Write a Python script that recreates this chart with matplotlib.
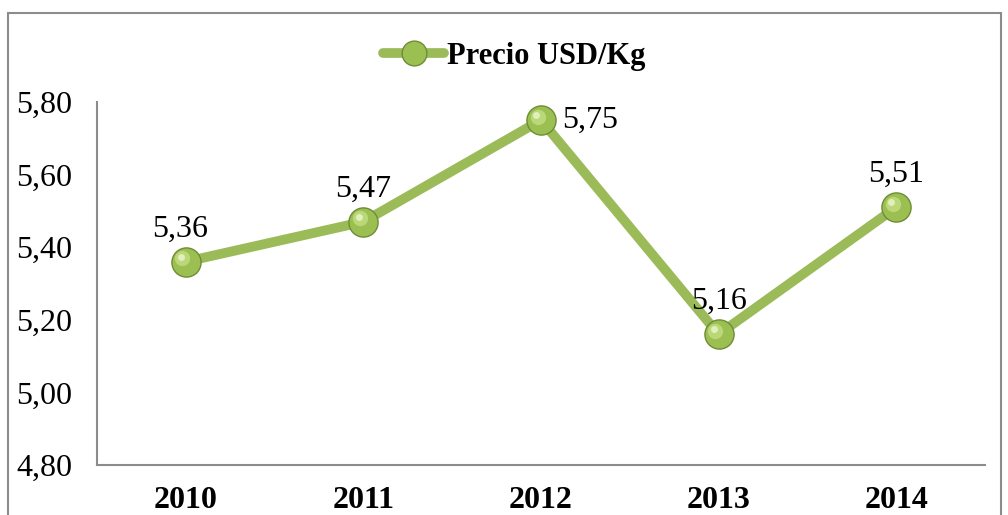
import matplotlib.pyplot as plt
from matplotlib.patches import Rectangle
from matplotlib.ticker import FuncFormatter
from matplotlib.transforms import offset_copy

plt.rcParams['font.family'] = ['Liberation Serif', 'DejaVu Serif']

# data
years = ['2010', '2011', '2012', '2013', '2014']
precio = [5.36, 5.47, 5.75, 5.16, 5.51]
serie = 'Precio USD/Kg'

green = '#9BBB59'
dark_green = '#6F8C36'

fig = plt.figure(figsize=(10.08, 5.15), dpi=100)
ax = fig.add_axes([0.0962, 0.097, 0.881, 0.705])

# outer chart border
fig.patches.append(Rectangle((8 / 1008, -0.05), 993 / 1008, 1.05 - 13 / 515,
                             transform=fig.transFigure, fill=False,
                             edgecolor='#8C8C8C', linewidth=1.5))

x = range(len(years))
ax.plot(x, precio, color=green, linewidth=7, solid_capstyle='round',
        marker='o', markersize=21, markerfacecolor='#9CBF52',
        markeredgecolor=dark_green, markeredgewidth=1.0, label=serie, zorder=3)
# soft highlight to suggest the glossy ball
hl = offset_copy(ax.transData, fig=fig, x=-2.5, y=2.5, units='points')
ax.plot(x, precio, linestyle='none', marker='o', markersize=11,
        markerfacecolor='#C9E38A', markeredgecolor='none', alpha=0.7,
        transform=hl, zorder=4)
ax.plot(x, precio, linestyle='none', marker='o', markersize=5,
        markerfacecolor='#EAF6CC', markeredgecolor='none', alpha=0.8,
        transform=offset_copy(ax.transData, fig=fig, x=-3.5, y=3.5, units='points'),
        zorder=5)

for i, v in enumerate(precio):
    txt = f'{v:.2f}'.replace('.', ',')
    if i == 2:
        ax.annotate(txt, (i, v), xytext=(15, 0), textcoords='offset points',
                    ha='left', va='center', fontsize=23)
    else:
        dx = -4 if i == 0 else 0
        ax.annotate(txt, (i, v), xytext=(dx, 13), textcoords='offset points',
                    ha='center', va='bottom', fontsize=23)

ax.set_xlim(-0.5, 4.5)
ax.set_ylim(4.8, 5.8)
ax.set_yticks([4.8, 5.0, 5.2, 5.4, 5.6, 5.8])
ax.yaxis.set_major_formatter(FuncFormatter(lambda v, p: f'{v:.2f}'.replace('.', ',')))
ax.set_xticks(list(x))
ax.set_xticklabels(years, fontweight='bold')
ax.tick_params(axis='both', length=0, labelsize=23)
ax.tick_params(axis='y', pad=18)
ax.tick_params(axis='x', pad=15)

for s in ['top', 'right']:
    ax.spines[s].set_visible(False)
for s in ['left', 'bottom']:
    ax.spines[s].set_color('#8C8C8C')
    ax.spines[s].set_linewidth(1.5)

leg = ax.legend(loc='center', bbox_to_anchor=(0.47, 1.125), frameon=False,
                prop={'weight': 'bold', 'size': 22}, handlelength=2.0,
                handletextpad=0.1, markerscale=0.85)

fig.savefig('out.png', dpi=100)
